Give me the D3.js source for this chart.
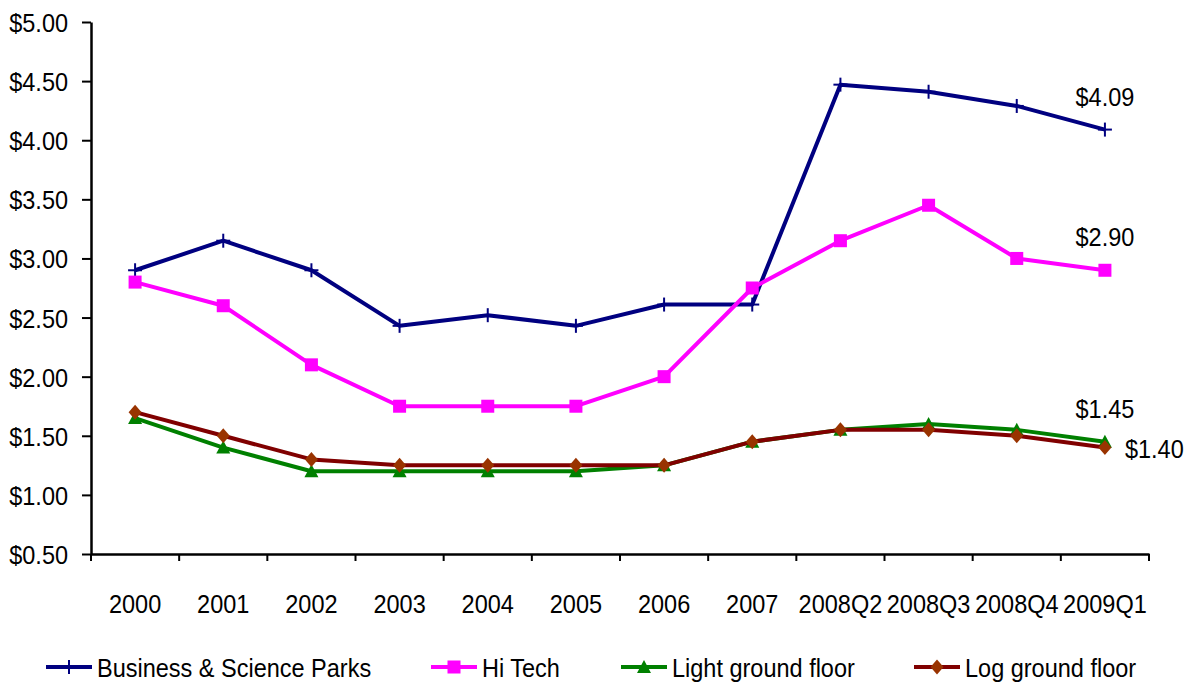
<!DOCTYPE html>
<html>
<head>
<meta charset="utf-8">
<script src="https://cdn.jsdelivr.net/npm/d3@7"></script>
<style>
  html, body { margin: 0; padding: 0; background: #fff; }
  svg { display: block; font-family: "Liberation Sans", Arial, sans-serif; }
</style>
</head>
<body>
<svg id="chart" width="1187" height="682"></svg>
<script>
// Rental rates by property type, 2000 – 2009Q1
const categories = ["2000", "2001", "2002", "2003", "2004", "2005", "2006", "2007",
                    "2008Q2", "2008Q3", "2008Q4", "2009Q1"];
const businessParks = [2.90, 3.15, 2.90, 2.43, 2.52, 2.43, 2.61, 2.61, 4.47, 4.41, 4.29, 4.09];
const hiTech        = [2.80, 2.60, 2.10, 1.75, 1.75, 1.75, 2.00, 2.75, 3.15, 3.45, 3.00, 2.90];
const lightGround   = [1.65, 1.40, 1.20, 1.20, 1.20, 1.20, 1.25, 1.45, 1.55, 1.60, 1.55, 1.45];
const logGround     = [1.70, 1.50, 1.30, 1.25, 1.25, 1.25, 1.25, 1.45, 1.55, 1.55, 1.50, 1.40];
const seriesNames   = ["Business & Science Parks", "Hi Tech", "Light ground floor", "Log ground floor"];
const yTicks        = [0.5, 1.0, 1.5, 2.0, 2.5, 3.0, 3.5, 4.0, 4.5, 5.0];

const series = [
  { name: seriesNames[0], values: businessParks, line: "#000080", fill: "#000080", marker: "plus",     label: { dx: 0,  dy: -33, anchor: "middle" } },
  { name: seriesNames[1], values: hiTech,        line: "#FF00FF", fill: "#FF00FF", marker: "square",   label: { dx: 0,  dy: -34, anchor: "middle" } },
  { name: seriesNames[2], values: lightGround,   line: "#008000", fill: "#008000", marker: "triangle", label: { dx: 0,  dy: -33, anchor: "middle" } },
  { name: seriesNames[3], values: logGround,     line: "#800000", fill: "#993300", marker: "diamond",  label: { dx: 20, dy: 1,   anchor: "start" } }
];

const svg = d3.select("#chart");
const FONT = 23.5, STRETCH = 1.13;

const x = d3.scaleBand().domain(categories).range([91, 1149]).padding(0);
const y = d3.scaleLinear().domain([0.5, 5.0]).range([554, 22]);
const cx = c => x(c) + x.bandwidth() / 2;

const money = v => "$" + d3.format(".2f")(v);

// Y axis
const yAxis = svg.append("g")
  .attr("transform", "translate(91,0)")
  .call(d3.axisLeft(y).tickValues(yTicks).tickFormat(money).tickSize(9).tickSizeOuter(0));
yAxis.select(".domain").attr("stroke", "#000").attr("stroke-width", 2.5);
yAxis.selectAll(".tick line").attr("stroke", "#000").attr("stroke-width", 2);
yAxis.selectAll(".tick text")
  .attr("x", -23).attr("dy", null)
  .attr("dominant-baseline", "central")
  .attr("transform", `scale(1,${STRETCH})`)
  .attr("font-size", FONT).attr("font-family", "Liberation Sans, Arial, sans-serif")
  .attr("fill", "#000");

// X axis: labels centered in each band, tick marks on band boundaries
const xAxis = svg.append("g")
  .attr("transform", "translate(0,554)")
  .call(d3.axisBottom(x).tickSize(0).tickSizeOuter(0));
xAxis.select(".domain").attr("stroke", "#000").attr("stroke-width", 2.5);
xAxis.selectAll(".tick text")
  .attr("y", 44).attr("dy", null)
  .attr("dominant-baseline", "central")
  .attr("transform", `scale(1,${STRETCH})`)
  .attr("font-size", FONT).attr("font-family", "Liberation Sans, Arial, sans-serif")
  .attr("fill", "#000");
const boundaries = d3.range(categories.length + 1).map(i => x.range()[0] + i * x.step());
svg.append("g").selectAll("line").data(boundaries).join("line")
  .attr("x1", d => d).attr("x2", d => d)
  .attr("y1", 554).attr("y2", 561)
  .attr("stroke", "#000").attr("stroke-width", 2);

// Marker drawing
function drawMarker(g, type, color) {
  if (type === "plus") {
    const h = 7;
    g.append("line").attr("x1", -h).attr("x2", h).attr("y1", 0).attr("y2", 0).attr("stroke", color).attr("stroke-width", 2);
    g.append("line").attr("x1", 0).attr("x2", 0).attr("y1", -h).attr("y2", h).attr("stroke", color).attr("stroke-width", 2);
  } else if (type === "square") {
    g.append("rect").attr("x", -6.5).attr("y", -6.5).attr("width", 13).attr("height", 13).attr("fill", color);
  } else if (type === "triangle") {
    g.append("path").attr("d", "M0,-7L7,6L-7,6Z").attr("fill", color);
  } else if (type === "diamond") {
    g.append("path").attr("d", "M0,-7.5L6.5,0L0,7.5L-6.5,0Z").attr("fill", color);
  }
}

const line = d3.line().x(d => cx(d.c)).y(d => y(d.v));

// Draw series in back-to-front order
const plot = svg.append("g");
series.forEach(s => {
  const pts = categories.map((c, i) => ({ c, v: s.values[i] }));
  const g = plot.append("g");
  g.append("path").datum(pts)
    .attr("d", line)
    .attr("fill", "none")
    .attr("stroke", s.line)
    .attr("stroke-width", 4)
    .attr("stroke-linejoin", "round");
  pts.forEach(p => {
    const m = g.append("g").attr("transform", `translate(${cx(p.c)},${y(p.v)})`);
    drawMarker(m, s.marker, s.fill);
  });
});

// End-of-line value labels
series.forEach(s => {
  const last = categories.length - 1;
  const v = s.values[last];
  svg.append("text")
    .attr("transform", `translate(${cx(categories[last]) + s.label.dx},${y(v) + s.label.dy}) scale(1,${STRETCH})`)
    .attr("text-anchor", s.label.anchor)
    .attr("dominant-baseline", "central")
    .attr("font-size", FONT)
    .attr("fill", "#000")
    .text(money(v));
});

// Legend: sample line start for each entry
const legendX = [46, 431, 621, 914];
const LEG_LEN = 46;
const legend = svg.append("g");
series.forEach((s, i) => {
  const g = legend.append("g").attr("transform", `translate(${legendX[i]},667)`);
  g.append("line").attr("x1", 0).attr("x2", LEG_LEN).attr("y1", 0).attr("y2", 0)
    .attr("stroke", s.line).attr("stroke-width", 4);
  const m = g.append("g").attr("transform", `translate(${LEG_LEN / 2},0)`);
  drawMarker(m, s.marker, s.fill);
  g.append("text")
    .attr("transform", `translate(${LEG_LEN + 5},0) scale(1,${STRETCH})`)
    .attr("dominant-baseline", "central")
    .attr("font-size", FONT)
    .attr("fill", "#000")
    .text(s.name);
});
</script>
</body>
</html>
